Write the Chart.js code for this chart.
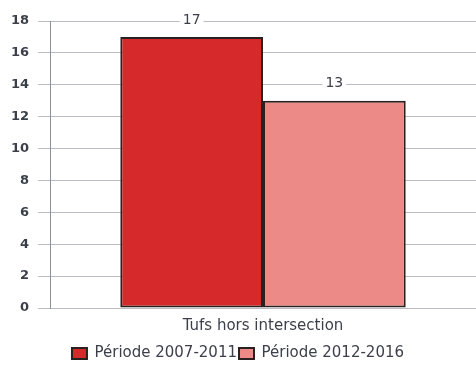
<!DOCTYPE html>
<html>
<head>
<meta charset="utf-8">
<script src="https://cdn.jsdelivr.net/npm/chart.js@4/dist/chart.umd.min.js"></script>
<style>
  html, body { margin: 0; padding: 0; background: #fff; }
  #wrap { width: 476px; height: 377px; }
</style>
</head>
<body>
<div id="wrap"><canvas id="c" width="476" height="377"></canvas></div>
<script>
// Categories, series and axis ticks
const categories = ["Tufs hors intersection"];
const seriesNames = ["Période 2007-2011", "Période 2012-2016"];
const values2007_2011 = [17];
const values2012_2016 = [13];
const yTicks = [0, 2, 4, 6, 8, 10, 12, 14, 16, 18];

const textColor = "#3a3f4a";
const fontFamily = "'DejaVu Sans', sans-serif";

// Writes each bar's value just above it, on a white patch over the grid
const valueLabels = {
  id: "valueLabels",
  afterDatasetsDraw(chart) {
    const ctx = chart.ctx;
    ctx.save();
    ctx.font = "14px " + fontFamily;
    ctx.textAlign = "center";
    ctx.textBaseline = "middle";
    chart.data.datasets.forEach((ds, i) => {
      chart.getDatasetMeta(i).data.forEach((bar, j) => {
        const txt = String(ds.data[j]);
        const y = bar.y - 17;
        const w = ctx.measureText(txt).width + 6;
        ctx.fillStyle = "#fff";
        ctx.fillRect(bar.x - w / 2, y - 7, w, 14);
        ctx.fillStyle = textColor;
        ctx.fillText(txt, bar.x, y);
      });
    });
    ctx.restore();
  }
};

new Chart(document.getElementById("c"), {
  type: "bar",
  data: {
    labels: categories,
    datasets: [
      {
        label: seriesNames[0],
        data: values2007_2011,
        backgroundColor: "#d6292b",
        borderColor: "#2a2020",
        borderWidth: 2,
        borderSkipped: false,
        categoryPercentage: 0.67,
        barPercentage: 1.0
      },
      {
        label: seriesNames[1],
        data: values2012_2016,
        backgroundColor: "#ec8a88",
        borderColor: "#2a2020",
        borderWidth: 2,
        borderSkipped: false,
        categoryPercentage: 0.67,
        barPercentage: 1.0
      }
    ]
  },
  options: {
    responsive: false,
    animation: false,
    layout: { padding: { top: 21, right: 0, bottom: 6, left: 0 } },
    plugins: {
      legend: {
        position: "bottom",
        labels: {
          color: textColor,
          font: { family: fontFamily, size: 15 },
          boxWidth: 15,
          boxHeight: 11,
          padding: 2
        }
      },
      tooltip: { enabled: false }
    },
    scales: {
      x: {
        grid: { display: false, drawTicks: false },
        border: { display: false },
        ticks: {
          color: textColor,
          font: { family: fontFamily, size: 15 },
          padding: 9
        }
      },
      y: {
        min: 0,
        max: 18,
        afterFit(scale) { scale.width = 50; },
        afterBuildTicks(scale) { scale.ticks = yTicks.map(v => ({ value: v })); },
        grid: { color: "#b9bcc2", tickLength: 12, lineWidth: 1 },
        border: { display: true, color: "#8d9096", width: 1 },
        ticks: {
          color: textColor,
          font: { family: fontFamily, size: 13, weight: "bold" },
          padding: 9
        }
      }
    }
  },
  plugins: [valueLabels]
});
</script>
</body>
</html>
